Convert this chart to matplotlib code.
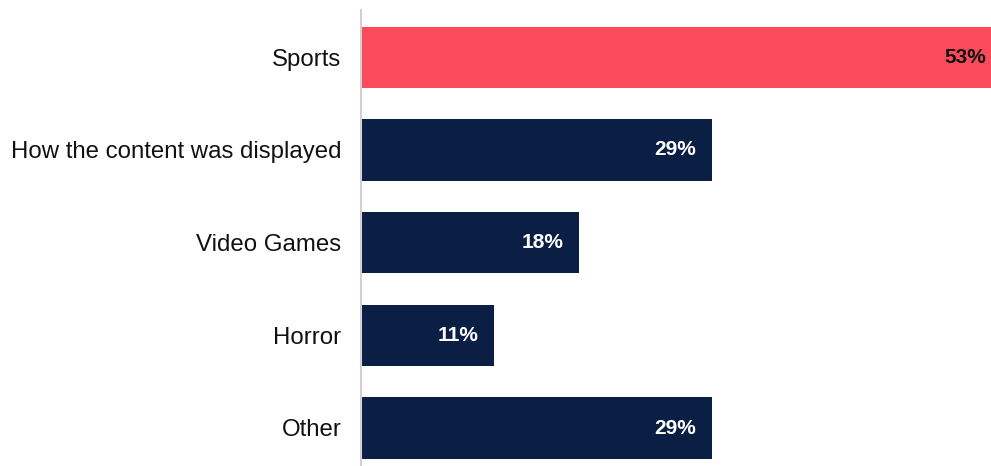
import matplotlib
matplotlib.use("Agg")
import matplotlib.pyplot as plt

categories = ["Sports", "How the content was displayed", "Video Games", "Horror", "Other"]
values = [53, 29, 18, 11, 29]
bar_colors = ["#FA4A5B", "#0B1F44", "#0B1F44", "#0B1F44", "#0B1F44"]
label_colors = ["#111111", "white", "white", "white", "white"]

plt.rcParams["font.family"] = ["Liberation Sans", "DejaVu Sans"]

fig = plt.figure(figsize=(9.91, 4.66), dpi=100)
ax = fig.add_axes([361 / 991, 0, 1 - 361 / 991, 456 / 466])

ypos = list(range(len(categories)))
ax.barh(ypos, values, height=0.66, color=bar_colors, edgecolor="none")

for y, v, c in zip(ypos, values, label_colors):
    ax.text(v - 1.3, y, f"{v}%", ha="right", va="center",
            fontsize=15, fontweight="bold", color=c)

ax.set_xlim(0, (991 - 361) / 12.1)
ax.set_ylim(4.41, -0.51)
ax.set_yticks(ypos)
ax.set_yticklabels(categories, fontsize=17.3, color="#111111")
ax.tick_params(axis="y", length=0, pad=14)
ax.set_xticks([])
for side in ["top", "right", "bottom"]:
    ax.spines[side].set_visible(False)
ax.spines["left"].set_color("#D0D0D0")
ax.spines["left"].set_linewidth(1.5)

fig.savefig("out.png", dpi=100)
